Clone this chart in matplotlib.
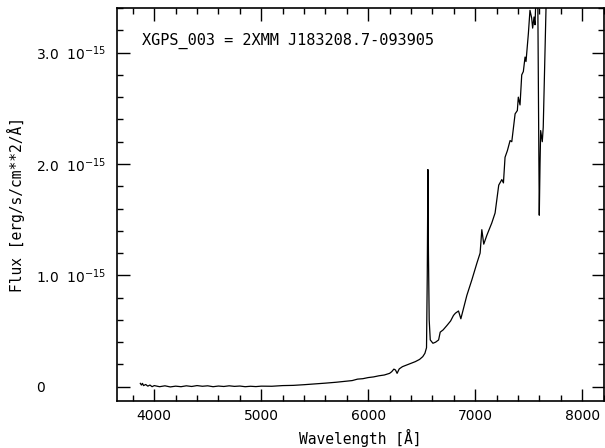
#!/usr/bin/env python3
"""Optical spectrum of XGPS_003 (PGPLOT-style replot)."""

import matplotlib

matplotlib.use("Agg")
import matplotlib.pyplot as plt
from matplotlib.ticker import FuncFormatter, MultipleLocator

# --- spectrum: wavelength [A], flux [1e-15 erg/s/cm^2/A] ---
WAVE = [
    3870, 3880, 3890, 3900, 3920, 3940, 3960, 3980, 4000, 4050,
    4100, 4150, 4200, 4250, 4300, 4350, 4400, 4450, 4500, 4550,
    4600, 4650, 4700, 4750, 4800, 4850, 4900, 4950, 5000, 5100,
    5200, 5300, 5400, 5500, 5600, 5700, 5800, 5850, 5900, 5950,
    6000, 6050, 6100, 6150, 6200, 6220, 6240, 6255, 6270, 6290,
    6320, 6360, 6400, 6440, 6480, 6510, 6530, 6545, 6552, 6558,
    6563, 6570, 6580, 6605, 6630, 6658, 6673, 6700, 6736, 6770,
    6797, 6815, 6844, 6866, 6890, 6922, 6969, 7016, 7046, 7062,
    7080, 7109, 7155, 7186, 7220, 7249, 7264, 7279, 7301, 7326,
    7342, 7373, 7394, 7403, 7419, 7435, 7450, 7466, 7475, 7497,
    7512, 7528, 7537, 7550, 7559, 7568, 7575, 7585, 7592, 7599,
    7606, 7612, 7627, 7636, 7662, 7700, 7800, 7900, 8000, 8100,
    8200,
]
FLUX = [
    0.030, 0.015, 0.030, 0.010, 0.020, 0.005, 0.015, 0.000, 0.010, 0.000,
    0.008, -0.002, 0.005, 0.000, 0.008, 0.002, 0.010, 0.004, 0.008, 0.000,
    0.006, 0.002, 0.008, 0.003, 0.006, 0.000, 0.004, 0.001, 0.005, 0.004,
    0.010, 0.012, 0.018, 0.025, 0.032, 0.040, 0.050, 0.055, 0.068, 0.072,
    0.082, 0.088, 0.098, 0.105, 0.120, 0.135, 0.158, 0.150, 0.120, 0.160,
    0.180, 0.195, 0.210, 0.225, 0.245, 0.270, 0.300, 0.350, 1.000, 1.950,
    1.200, 0.600, 0.420, 0.390, 0.400, 0.420, 0.490, 0.510, 0.550, 0.590,
    0.640, 0.660, 0.680, 0.610, 0.700, 0.820, 0.960, 1.110, 1.200, 1.410,
    1.280, 1.360, 1.470, 1.560, 1.810, 1.860, 1.830, 2.060, 2.120, 2.210,
    2.200, 2.450, 2.480, 2.600, 2.530, 2.800, 2.830, 2.960, 2.920, 3.170,
    3.380, 3.310, 3.220, 3.320, 3.250, 3.500, 3.600, 3.500, 2.500, 1.540,
    2.000, 2.300, 2.200, 2.330, 3.400, 3.800, 4.000, 4.150, 4.300, 4.400,
    4.500,
]

TITLE = "XGPS_003 = 2XMM J183208.7-093905"
MONO = "DejaVu Sans Mono"


def ytick_fmt(v, _pos):
    if abs(v) < 1e-9:
        return "0"
    return f"{v:.1f}  $\\mathregular{{10^{{-15}}}}$"


def main() -> None:
    fig = plt.figure(figsize=(6.05, 4.48), dpi=100)
    ax = fig.add_axes([0.1934, 0.105, 0.8046, 0.877])

    ax.plot(WAVE, FLUX, color="black", lw=0.9)

    ax.set_xlim(3652, 8202)
    ax.set_ylim(-0.128, 3.40)

    ax.xaxis.set_major_locator(MultipleLocator(1000))
    ax.xaxis.set_minor_locator(MultipleLocator(200))
    ax.yaxis.set_major_locator(MultipleLocator(1.0))
    ax.yaxis.set_minor_locator(MultipleLocator(0.2))
    ax.yaxis.set_major_formatter(FuncFormatter(ytick_fmt))

    ax.tick_params(axis="both", which="major", direction="in", top=True,
                   right=True, width=1.0, length=9, labelsize=10)
    ax.tick_params(axis="both", which="minor", direction="in", top=True,
                   right=True, width=1.0, length=4.5)
    ax.tick_params(axis="x", which="major", pad=6)
    # PGPLOT puts y labels flush left, "0" lines up with "3.0"
    ax.tick_params(axis="y", which="major", pad=58)
    for lab in ax.get_yticklabels():
        lab.set_horizontalalignment("left")
    for sp in ax.spines.values():
        sp.set_linewidth(1.2)

    ax.set_xlabel("Wavelength [Å]", family=MONO, fontsize=10.5, labelpad=4)
    ax.set_ylabel("Flux [erg/s/cm**2/Å]", family=MONO, fontsize=10.5, labelpad=8)

    ax.text(0.051, 0.906, TITLE, transform=ax.transAxes, family=MONO,
            fontsize=11, ha="left", va="baseline")

    fig.savefig("out.png", dpi=100)


if __name__ == "__main__":
    main()
